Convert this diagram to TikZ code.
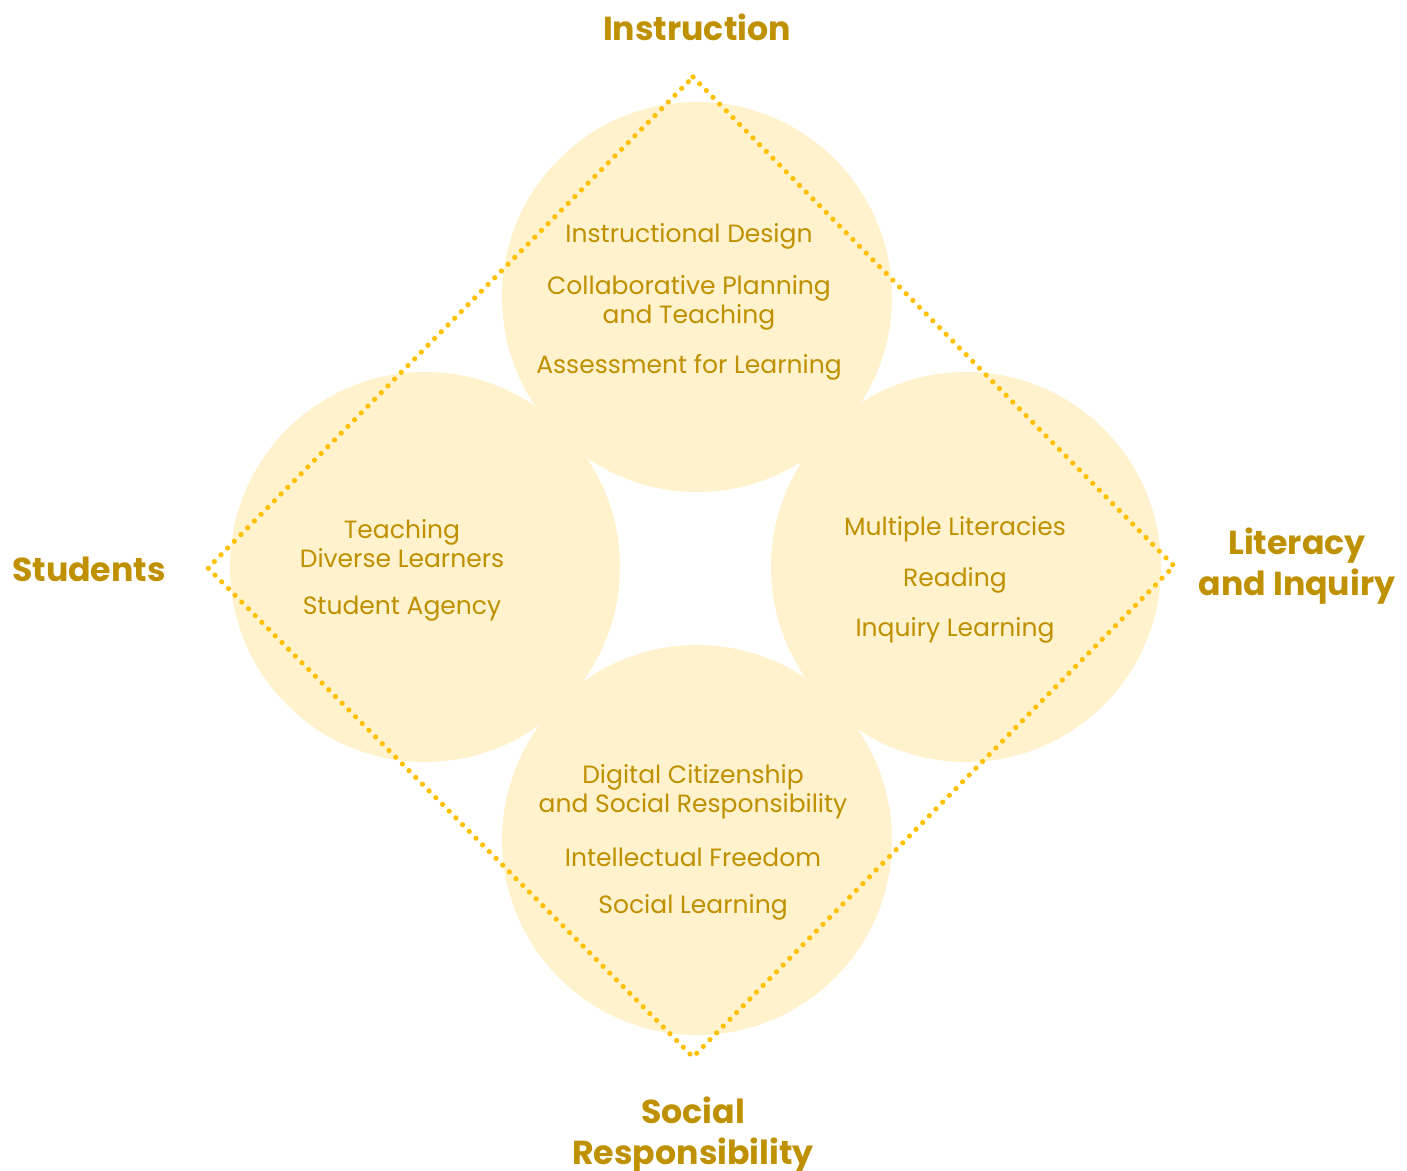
\documentclass[tikz,border=0pt]{standalone}
\usepackage{fontspec}
\setmainfont{Poppins}
\definecolor{cfill}{HTML}{FFF2CC}
\definecolor{ctext}{HTML}{BF9000}
\definecolor{cdot}{HTML}{FFC000}
\begin{document}
\begin{tikzpicture}[x=0.5pt,y=-0.5pt,
  blob/.style={circle,fill=cfill,draw=none,minimum size=195pt,inner sep=0pt},
  item/.style={text=ctext,font=\fontsize{12.5}{14.5}\selectfont,align=center,inner sep=0pt},
  head/.style={text=ctext,font=\fontsize{16.6}{20.5}\selectfont\bfseries,align=center,inner sep=0pt},
  dotline/.style={draw=cdot,line width=2.6pt,line cap=round,dash pattern=on 0pt off 4.75pt}]
\useasboundingbox (0,0) rectangle (1407,1171);
\node[blob] (top) at (697,297) {};
\node[blob] (left) at (425,567) {};
\node[blob] (right) at (966,567) {};
\node[blob] (bottom) at (697,840) {};
\coordinate (dt) at (693,77);
\coordinate (dr) at (1174,566);
\coordinate (db) at (693,1057);
\coordinate (dl) at (208,568);
\draw[dotline] (dt) -- (dr) -- (db) -- (dl) -- cycle;
% top circle
\node[item] (t1) at (689,236) {Instructional Design};
\node[item] (t2) at (689,302.5) {Collaborative Planning\\and Teaching};
\node[item] (t3) at (689,367) {Assessment for Learning};
% left circle
\node[item] (l1) at (402,543.5) {Teaching\\Diverse Learners};
\node[item] (l2) at (402,609) {Student Agency};
% right circle
\node[item] (r1) at (955,529) {Multiple Literacies};
\node[item] (r2) at (955,580) {Reading};
\node[item] (r3) at (955,630) {Inquiry Learning};
% bottom circle
\node[item] (b1) at (693,791.5) {Digital Citizenship\\and Social Responsibility};
\node[item] (b2) at (693,857) {Intellectual Freedom};
\node[item] (b3) at (693,907) {Social Learning};
% headings
\node[head] (hI) at (697,27) {Instruction};
\node[head] (hS) at (89,569) {Students};
\node[head] (hL) at (1297,566) {Literacy\\and Inquiry};
\node[head] (hR) at (693,1135) {Social\\Responsibility};
\end{tikzpicture}
\end{document}
